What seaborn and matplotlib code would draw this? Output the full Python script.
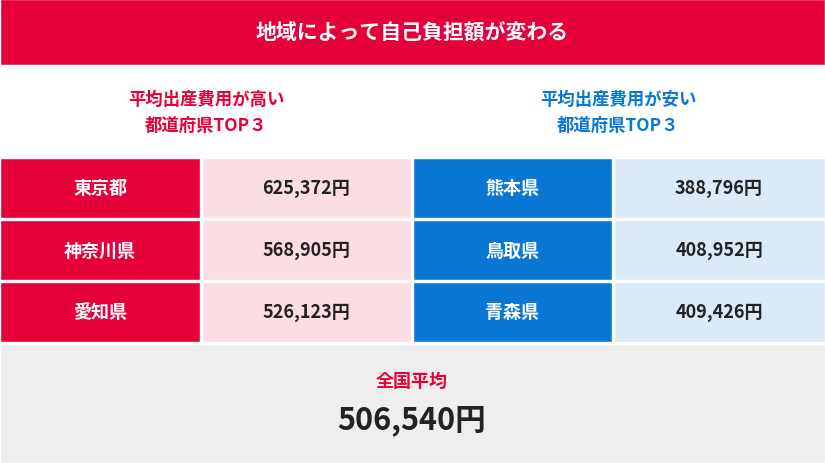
import matplotlib
matplotlib.use("Agg")
import matplotlib.pyplot as plt
import seaborn as sns

title = "地域によって自己負担額が変わる"
high_title = "平均出産費用が高い\n都道府県TOP３"
low_title = "平均出産費用が安い\n都道府県TOP３"
high_prefs = ["東京都", "神奈川県", "愛知県"]
high_costs = [625372, 568905, 526123]
low_prefs = ["熊本県", "鳥取県", "青森県"]
low_costs = [388796, 408952, 409426]
avg_label = "全国平均"
avg_cost = 506540

red = "#E60039"
pink = "#FDDDE4"
blue = "#0A77D5"
lblue = "#DCEAF7"
gray = "#EEEEEE"

sns.set_theme(style="white")
plt.rcParams["font.family"] = ["Noto Sans CJK JP", "DejaVu Sans"]

fig = plt.figure(figsize=(8.25, 4.64), dpi=100)
ax = fig.add_axes([0, 0, 1, 1])
ax.set_xlim(0, 825)
ax.set_ylim(464, 0)
ax.axis("off")

# title band and bottom band
ax.barh(33, 825, left=0, height=66, color=red)
ax.text(412, 33, title, color="white", ha="center", va="center", fontsize=15, fontweight="bold")
ax.barh(404.5, 825, left=0, height=119, color=gray)

ax.text(206, 113, high_title, color=red, ha="center", va="center", fontsize=12.5,
        fontweight="bold", linespacing=1.6)
ax.text(618, 113, low_title, color=blue, ha="center", va="center", fontsize=12.5,
        fontweight="bold", linespacing=1.6)

row_y = [188.5, 251, 313]
for i, y in enumerate(row_y):
    ax.barh(y, 200, left=0, height=60, color=red)
    ax.barh(y, 209, left=202, height=60, color=pink)
    ax.barh(y, 199, left=413, height=60, color=blue)
    ax.barh(y, 211, left=614, height=60, color=lblue)
    ax.text(100, y, high_prefs[i], color="white", ha="center", va="center", fontsize=13, fontweight="bold")
    ax.text(306, y, f"{high_costs[i]:,}円", color="#222222", ha="center", va="center", fontsize=13, fontweight="bold")
    ax.text(512, y, low_prefs[i], color="white", ha="center", va="center", fontsize=13, fontweight="bold")
    ax.text(719, y, f"{low_costs[i]:,}円", color="#222222", ha="center", va="center", fontsize=13, fontweight="bold")

ax.text(412, 381, avg_label, color=red, ha="center", va="center", fontsize=13, fontweight="bold")
ax.text(412, 420, f"{avg_cost:,}円", color="#222222", ha="center", va="center", fontsize=22, fontweight="bold")

fig.savefig("out.png", dpi=100)
